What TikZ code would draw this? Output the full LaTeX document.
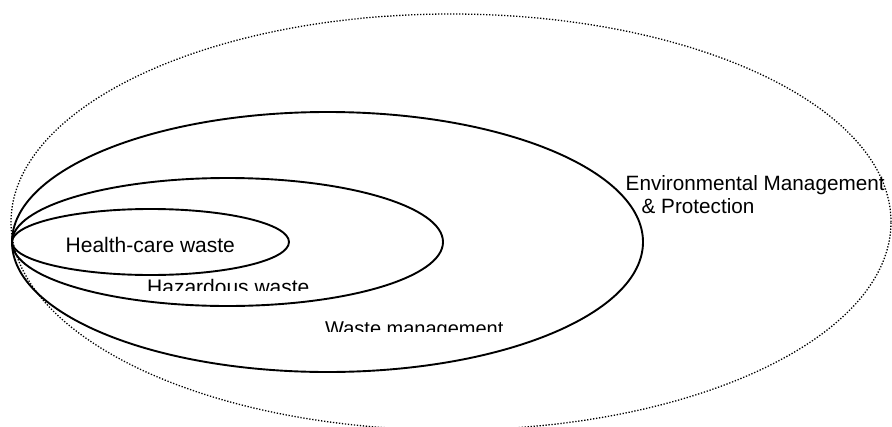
\documentclass[tikz,border=0pt]{standalone}
\usepackage{fontspec}
\setmainfont{Liberation Sans}
\begin{document}
\begin{tikzpicture}[x=1pt,y=-1pt,
  ring/.style={draw=black,line width=1.9pt},
  outerring/.style={draw=black,line width=1.3pt,dash pattern=on 1.3pt off 1.7pt},
  lbl/.style={inner sep=0pt,anchor=base west,font=\fontsize{21}{24}\selectfont}]
\useasboundingbox (0,0) rectangle (892,426);
% nested fields, all touching at the left
\draw[outerring] (451,222) ellipse [x radius=440pt,y radius=208pt];
\draw[ring] (327.5,242) ellipse [x radius=315.5pt,y radius=130pt];
\draw[ring] (227.5,242) ellipse [x radius=215.5pt,y radius=64pt];
\draw[ring] (150.5,242) ellipse [x radius=138.5pt,y radius=33pt];
% labels
\node[lbl] (hcw) at (65.5,252.5) {Health-care waste};
\begin{scope}
  \clip (140,260) rectangle (330,290);
  \node[lbl] (hzw) at (147,294) {Hazardous waste};
\end{scope}
\begin{scope}
  \clip (315,300) rectangle (530,331.5);
  \node[lbl,font=\fontsize{20}{23}\selectfont] (wm) at (325,335.5) {Waste management};
\end{scope}
\node[lbl,font=\fontsize{20.7}{24}\selectfont] (emp1) at (625.5,190) {Environmental Management};
\node[lbl,font=\fontsize{20.7}{24}\selectfont] (emp2) at (641.5,213.5) {\& Protection};
\end{tikzpicture}
\end{document}
